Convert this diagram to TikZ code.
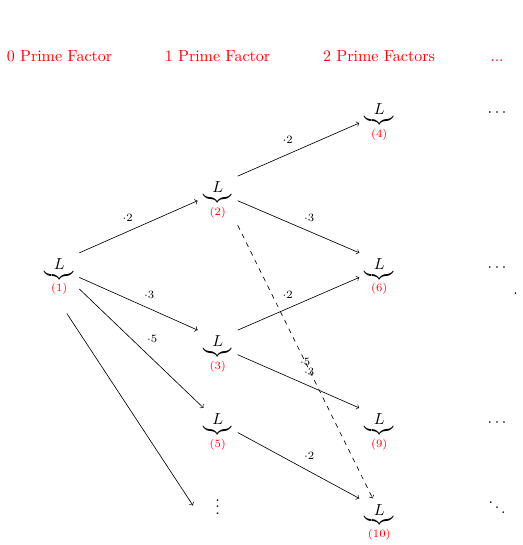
\documentclass[tikz,border=0pt]{standalone}
\usepackage{tikz}

\begin{document}
\begin{tikzpicture}[x=0.625pt,y=-0.625pt]%[scale=1]
  \newcommand{\Lfac}[1]{$\underbrace{\;\;L\;\;}_{\textcolor{red}{(#1)}}$}
  \tikzset{Lvert/.style={anchor=base},
    Head/.style={anchor=base,text=red},
    wt/.style={font=\scriptsize,auto},
    wtmid/.style={font=\scriptsize}}
  \useasboundingbox (0,0) rectangle (523,545);
  % column heads
  \node[Head] (h0) at (59.5,61.5) {0 Prime Factor};
  \node[Head] (h1) at (217.5,61.5) {1 Prime Factor};
  \node[Head] (h2) at (379,61.5) {2 Prime Factors};
  \node[Head] (h3) at (497,61.5) {...};
  % vertices
  \node[Lvert] (n1) at (59.3,269.4) {\Lfac{1}};
  \node[Lvert] (n2) at (217.7,192.7) {\Lfac{2}};
  \node[Lvert] (n3) at (217.7,346.7) {\Lfac{3}};
  \node[Lvert] (n5) at (217.7,424.5) {\Lfac{5}};
  \node[Lvert] (vd) at (217.5,514) {$\vdots$};
  \node[Lvert] (n4) at (379.3,115) {\Lfac{4}};
  \node[Lvert] (n6) at (379.3,269.4) {\Lfac{6}};
  \node[Lvert] (n9) at (379.3,424.5) {\Lfac{9}};
  \node[Lvert] (n10) at (379.3,515) {\Lfac{10}};
  \node[Lvert] (d4) at (497,116.3) {$\cdots$};
  \node[Lvert] (d6) at (497,271.3) {$\cdots$};
  \node[Lvert] (d9) at (497,426.5) {$\cdots$};
  \node[Lvert] (d10) at (497,515) {$\ddots$};
  \node[Lvert] (pt) at (515.5,294.2) {.};
  \coordinate (vend) at (193,505.5);
  % edges
  \draw[->] (n1.north east) -- node[wt] {$\cdot 2$} (n2.west);
  \draw[->] (n1.east) -- node[wt] {$\cdot 3$} (n3.north west);
  \draw[->] (n1.-30) -- node[wt] {$\cdot 5$} (n5.120);
  \draw[->,shorten <=8.5pt] (n1.south) -- (vend);
  \draw[->] (n2.north east) -- node[wt] {$\cdot 2$} (n4.west);
  \draw[->] (n2.east) -- node[wt] {$\cdot 3$} (n6.north west);
  \draw[->,dashed] (n2.south east) -- node[wtmid] {$\cdot 5$} (n10.105);
  \draw[->] (n3.north east) -- node[wt] {$\cdot 2$} (n6.west);
  \draw[->] (n3.east) -- node[wt] {$\cdot 3$} (n9.north west);
  \draw[->] (n5.east) -- node[wt] {$\cdot 2$} (n10.north west);
\end{tikzpicture}
\end{document}
